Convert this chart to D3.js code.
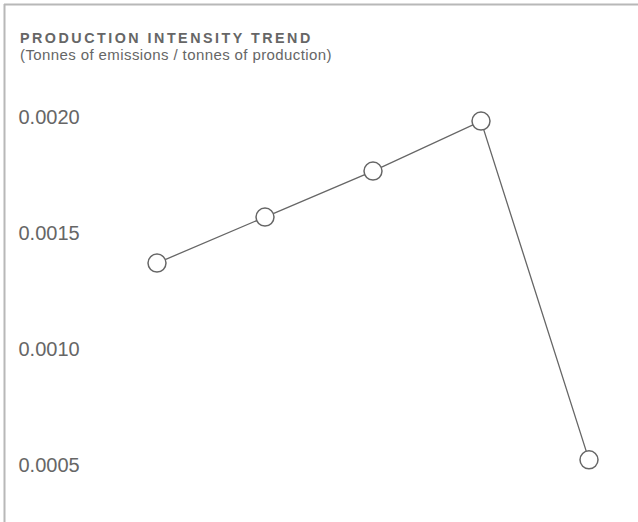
<!DOCTYPE html>
<html>
<head>
<meta charset="utf-8">
<script src="https://cdn.jsdelivr.net/npm/d3@7"></script>
<style>
  body { margin: 0; background: #fff; }
  svg { display: block; font-family: "Liberation Sans", Arial, Helvetica, sans-serif; }
</style>
</head>
<body>
<div id="chart"></div>
<script>
// data
var categories = ["1", "2", "3", "4", "5"];
var intensity = [0.001367, 0.001565, 0.001763, 0.001978, 0.00052];
var yTicks = [0.0005, 0.0010, 0.0015, 0.0020];

var w = 638, h = 522;

var svg = d3.select("#chart")
    .append("svg")
    .attr("width", w)
    .attr("height", h);

// frame: top and left rule
svg.append("line")
    .attr("x1", 4).attr("x2", w).attr("y1", 4.5).attr("y2", 4.5)
    .style("stroke", "#b8b8b8").style("stroke-width", 2);
svg.append("line")
    .attr("x1", 4.5).attr("x2", 4.5).attr("y1", 4).attr("y2", h)
    .style("stroke", "#b8b8b8").style("stroke-width", 2);

svg.append("text")
    .attr("x", 20).attr("y", 43.3)
    .style("font-size", "14.3px").style("font-weight", "bold")
    .style("letter-spacing", "2.5px").style("fill", "#666")
    .text("PRODUCTION INTENSITY TREND");

svg.append("text")
    .attr("x", 20).attr("y", 60)
    .style("font-size", "15px").style("fill", "#666")
    .style("letter-spacing", "0.4px")
    .text("(Tonnes of emissions / tonnes of production)");

var x = d3.scalePoint()
    .domain(categories)
    .range([157, 589]);

var y = d3.scaleLinear()
    .domain([0.0005, 0.0020])
    .range([464.5, 116]);

var yAxis = d3.axisRight(y)
    .tickValues(yTicks)
    .tickSize(0)
    .tickPadding(0)
    .tickFormat(d3.format(".4f"));

var gy = svg.append("g")
    .attr("transform", "translate(18.5,0)")
    .call(yAxis);
gy.select(".domain").remove();
gy.selectAll("text")
    .attr("dy", "0.35em")
    .style("font-size", "20px")
    .style("font-family", "\"Liberation Sans\", Arial, sans-serif")
    .style("fill", "#666");

var line = d3.line()
    .x(function(d, i) { return x(categories[i]); })
    .y(function(d) { return y(d); });

svg.append("path")
    .datum(intensity)
    .attr("d", line)
    .style("fill", "none")
    .style("stroke", "#666")
    .style("stroke-width", 1.3);

svg.selectAll("circle.pt")
    .data(intensity)
    .enter().append("circle")
    .attr("class", "pt")
    .attr("cx", function(d, i) { return x(categories[i]); })
    .attr("cy", function(d) { return y(d); })
    .attr("r", 9)
    .style("fill", "#fff")
    .style("stroke", "#666")
    .style("stroke-width", 1.5);
</script>
</body>
</html>
